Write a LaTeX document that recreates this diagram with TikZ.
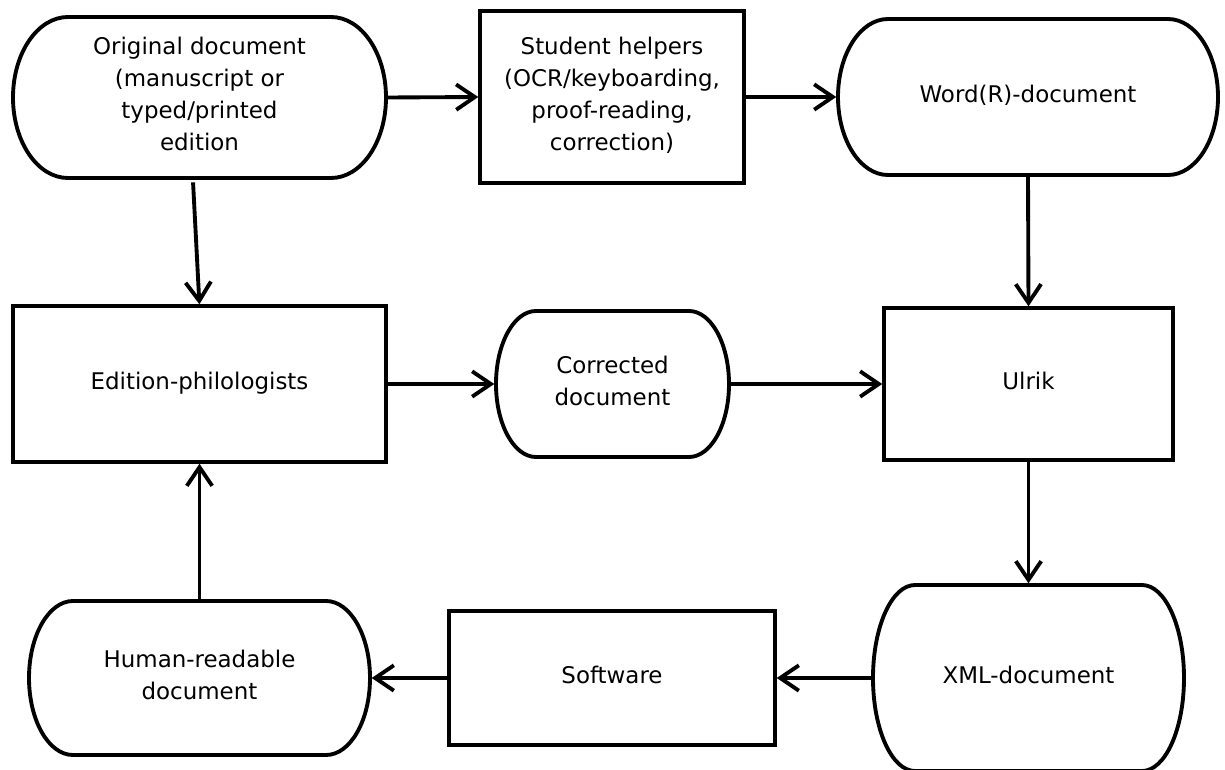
\documentclass[tikz,border=0pt]{standalone}
\usepackage{fontspec}
\setmainfont{DejaVu Sans}
\usetikzlibrary{arrows.meta,calc}
\tikzset{
  box/.style={draw, line width=2.9pt, align=center, inner sep=0pt, outer sep=0pt,
    font=\fontsize{17.2}{24}\selectfont, text depth=5pt},
  stad/.style={box, draw=none},
  conn/.style={line width=2.9pt, -{Straight Barb[length=14pt,width=19pt]},
    shorten >=1.3pt, shorten <=1.3pt},
}
\newcommand\stadpath[3]{%
  \draw[line width=2.9pt] ($(#1.north west)+(#2,0)$) -- ($(#1.north east)+(-#2,0)$)
    arc[start angle=90,end angle=-90,x radius=#2,y radius=#3]
    -- ($(#1.south west)+(#2,0)$)
    arc[start angle=270,end angle=90,x radius=#2,y radius=#3] -- cycle;}
\begin{document}
\begin{tikzpicture}[x=0.75pt,y=0.75pt]
\useasboundingbox (0,0) rectangle (1225,769);
\clip (0,0) rectangle (1225,769);
% top row
\node[stad, minimum width=279.75pt, minimum height=120.75pt] (orig) at (199.5,671.5)
  {Original document\\(manuscript or\\typed/printed\\edition};
\node[box, minimum width=198pt, minimum height=129pt] (stud) at (612,672)
  {Student helpers\\(OCR/keyboarding,\\proof-reading,\\correction)};
\node[stad, minimum width=285pt, minimum height=117pt] (word) at (1028,672)
  {Word(R)-document};
% middle row
\node[box, minimum width=279.75pt, minimum height=117pt] (edit) at (199.5,385)
  {Edition-philologists};
\node[stad, minimum width=174.75pt, minimum height=109.5pt] (corr) at (612.5,385)
  {Corrected\\document};
\node[box, minimum width=216.75pt, minimum height=114pt] (ulrik) at (1028.5,385)
  {Ulrik};
% bottom row
\node[stad, minimum width=255.75pt, minimum height=115.5pt] (human) at (199.5,91)
  {Human-readable\\document};
\node[box, minimum width=244.5pt, minimum height=100.5pt] (soft) at (612,91)
  {Software};
\node[stad, minimum width=233.25pt, minimum height=139.5pt] (xml) at (1028.5,91)
  {XML-document};
% stadium outlines
\stadpath{orig}{55}{80.5}
\stadpath{word}{50}{78}
\stadpath{corr}{40}{73}
\stadpath{human}{44}{77}
\stadpath{xml}{42}{93}
% connectors
\draw[conn] (orig.east) -- (stud.west);
\draw[conn] (stud.east) -- (word.west);
\draw[conn] ([xshift=-4.9pt,yshift=-2pt]orig.south) -- (edit.north);
\draw[conn] (word.south) -- (ulrik.north);
\draw[conn] (edit.east) -- (corr.west);
\draw[conn] (corr.east) -- (ulrik.west);
\draw[conn] (ulrik.south) -- (xml.north);
\draw[conn] (xml.west) -- (soft.east);
\draw[conn] (soft.west) -- (human.east);
\draw[conn] (human.north) -- (edit.south);
\end{tikzpicture}
\end{document}
